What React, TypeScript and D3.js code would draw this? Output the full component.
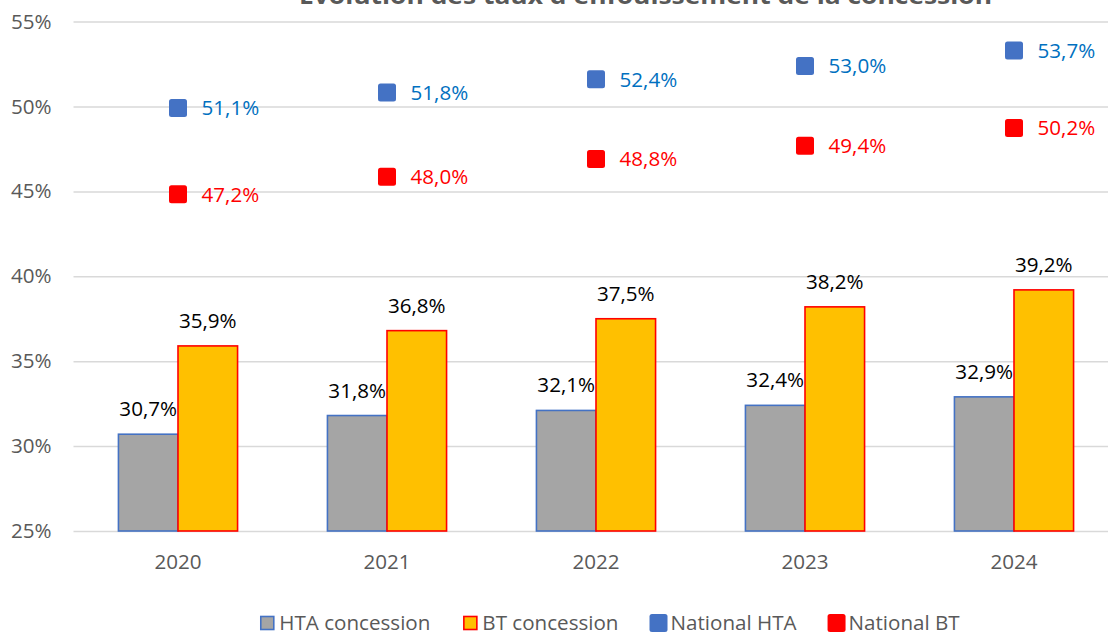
import React, { useEffect, useRef } from 'react';
import * as d3 from 'd3';

const years = ['2020', '2021', '2022', '2023', '2024'];
const htaConcession = [30.7, 31.8, 32.1, 32.4, 32.9];
const btConcession = [35.9, 36.8, 37.5, 38.2, 39.2];
const nationalHta = [51.1, 51.8, 52.4, 53.0, 53.7];
const nationalBt = [47.2, 48.0, 48.8, 49.4, 50.2];
const yTicks = [25, 30, 35, 40, 45, 50, 55];
const seriesNames = ['HTA concession', 'BT concession', 'National HTA', 'National BT'];

const W = 1108;
const H = 635;
const FONT = "'Open Sans', 'Liberation Sans', sans-serif";
const FS = 20.6;

const fr = d3.formatLocale({ decimal: ',', thousands: ' ', grouping: [3], currency: ['', ' €'] });
const pct1 = (v: number) => fr.format('.1f')(v) + '%';

const App = () => {
	const ref = useRef<SVGSVGElement>(null);

	useEffect(() => {
		const svg = d3.select(ref.current);
		svg.selectAll('*').remove();

		const left = 73.5;
		const right = 1118.5;
		const top = 21.6;
		const bottom = 531;

		const x = d3.scaleBand().domain(years).range([left, right]).paddingInner(0.43).paddingOuter(0.215);
		const xSeries = d3.scaleBand().domain(['hta', 'bt']).range([0, x.bandwidth()]);
		const y = d3.scaleLinear().domain([25, 55]).range([bottom, top]);
		// hidden secondary axis used by the national markers
		const y2 = d3.scaleLinear().domain([32, 55]).range([bottom, top]);

		// title (cut at the top of the frame, as in the source)
		svg.append('text')
			.attr('x', 645.5)
			.attr('y', 4)
			.attr('text-anchor', 'middle')
			.attr('font-family', FONT)
			.attr('font-weight', 700)
			.attr('font-size', 24)
			.attr('fill', '#595959')
			.attr('textLength', 693)
			.attr('lengthAdjust', 'spacingAndGlyphs')
			.text("Evolution des taux d'enfouissement de la concession");

		// grid + y labels
		const axis = svg.append('g')
			.attr('transform', `translate(${left},0)`)
			.call(
				d3.axisLeft(y)
					.tickValues(yTicks)
					.tickSizeInner(-(W - left))
					.tickSizeOuter(0)
					.tickPadding(22)
					.tickFormat((d) => `${d}%`)
			);
		axis.select('.domain').remove();
		axis.selectAll('line').attr('stroke', '#d9d9d9').attr('stroke-width', 1.5);
		axis.selectAll('text')
			.attr('font-family', FONT)
			.attr('font-size', FS)
			.attr('fill', '#595959');

		// bars
		const groups = svg.append('g')
			.selectAll('g')
			.data(years)
			.join('g')
			.attr('transform', (d) => `translate(${x(d)},0)`);

		const barData = (i: number) => [
			{ key: 'hta', v: htaConcession[i], fill: '#a5a5a5', stroke: '#4472c4' },
			{ key: 'bt', v: btConcession[i], fill: '#ffc000', stroke: '#ff0000' },
		];

		groups.each(function (_, i) {
			const g = d3.select(this);
			const bars = barData(i);
			g.selectAll('rect')
				.data(bars)
				.join('rect')
				.attr('x', (d) => xSeries(d.key)!)
				.attr('y', (d) => y(d.v))
				.attr('width', xSeries.bandwidth())
				.attr('height', (d) => y(25) - y(d.v))
				.attr('fill', (d) => d.fill)
				.attr('stroke', (d) => d.stroke)
				.attr('stroke-width', 1.6);
			g.selectAll('text.lbl')
				.data(bars)
				.join('text')
				.attr('class', 'lbl')
				.attr('x', (d) => xSeries(d.key)! + xSeries.bandwidth() / 2)
				.attr('y', (d) => y(d.v) - 18)
				.attr('text-anchor', 'middle')
				.attr('font-family', FONT)
				.attr('font-size', FS)
				.attr('fill', '#000')
				.text((d) => pct1(d.v));
		});

		// national markers
		const markerSets = [
			{ values: nationalHta, color: '#4472c4', text: '#0070c0' },
			{ values: nationalBt, color: '#ff0000', text: '#ff0000' },
		];
		markerSets.forEach((s) => {
			const g = svg.append('g');
			g.selectAll('rect')
				.data(s.values)
				.join('rect')
				.attr('x', (_, i) => x(years[i])! + x.bandwidth() / 2 - 9)
				.attr('y', (d) => y2(d) - 9)
				.attr('width', 18)
				.attr('height', 18)
				.attr('rx', 2.5)
				.attr('fill', s.color);
			g.selectAll('text')
				.data(s.values)
				.join('text')
				.attr('x', (_, i) => x(years[i])! + x.bandwidth() / 2 + 23.5)
				.attr('y', (d) => y2(d) + 7.5)
				.attr('font-family', FONT)
				.attr('font-size', FS)
				.attr('fill', s.text)
				.text((d) => pct1(d));
		});

		// x labels
		svg.append('g')
			.selectAll('text')
			.data(years)
			.join('text')
			.attr('x', (d) => x(d)! + x.bandwidth() / 2)
			.attr('y', 569)
			.attr('text-anchor', 'middle')
			.attr('font-family', FONT)
			.attr('font-size', FS)
			.attr('fill', '#595959')
			.text((d) => d);

		// legend
		const legend = svg.append('g');
		const swatches = [
			{ fill: '#a5a5a5', stroke: '#4472c4', w: 13, h: 13, rx: 0 },
			{ fill: '#ffc000', stroke: '#ff0000', w: 13, h: 13, rx: 0 },
			{ fill: '#4472c4', stroke: 'none', w: 18, h: 18, rx: 2.5 },
			{ fill: '#ff0000', stroke: 'none', w: 18, h: 18, rx: 2.5 },
		];
		let cx = 0;
		const ly = 623;
		seriesNames.forEach((name, i) => {
			const sw = swatches[i];
			const item = legend.append('g');
			item.append('rect')
				.attr('x', cx + (18 - sw.w) / 2)
				.attr('y', ly - sw.h / 2)
				.attr('width', sw.w)
				.attr('height', sw.h)
				.attr('rx', sw.rx)
				.attr('fill', sw.fill)
				.attr('stroke', sw.stroke)
				.attr('stroke-width', 1.6);
			const t = item.append('text')
				.attr('x', cx + 21)
				.attr('y', ly + 7)
				.attr('font-family', FONT)
				.attr('font-size', FS)
				.attr('fill', '#595959')
				.text(name);
			const tw = (t.node() as SVGTextElement).getComputedTextLength();
			cx += 21 + tw + 31;
		});
		const total = cx - 31;
		legend.attr('transform', `translate(${609 - total / 2},0)`);
	}, []);

	return (
		<svg
			ref={ref}
			width={W}
			height={H}
			style={{ position: 'absolute', left: 0, top: 0, background: '#fff' }}
		/>
	);
};

export default App;
